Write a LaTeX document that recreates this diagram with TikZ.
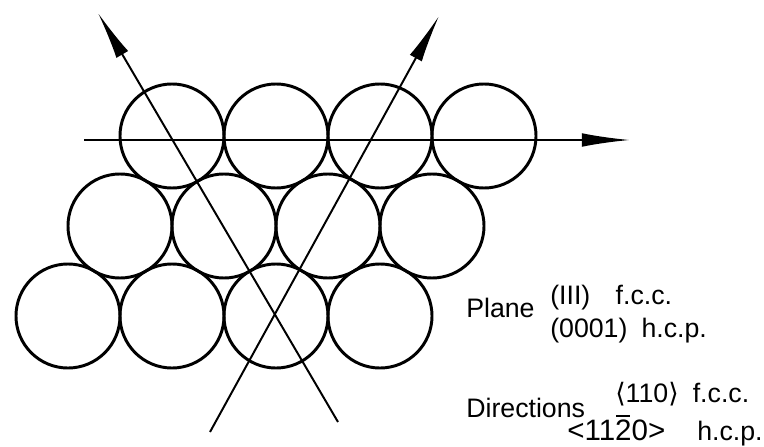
\documentclass[tikz,border=0pt]{standalone}
\usepackage{fontspec}
\setmainfont{Liberation Sans}
\newfontfamily\bracketfont{DejaVu Sans}
\usetikzlibrary{arrows.meta}
\newcommand{\barover}[1]{\ooalign{#1\cr\hidewidth\rule[0.78em]{0.48em}{0.07em}\hidewidth\cr}}

\begin{document}
\begin{tikzpicture}[x=0.025cm,y=-0.025cm,
  every node/.style={font=\fontsize{19}{22}\selectfont,inner sep=0pt},
  ball/.style={line width=2.1pt},
  axis/.style={line width=1.4pt,-{Latex[length=12mm,width=3.4mm]}}]
\useasboundingbox (0,0) rectangle (764,447);
% top layer of spheres
\draw[ball] (172,136) circle[radius=1.3cm];
\draw[ball] (276,136) circle[radius=1.3cm];
\draw[ball] (380,136) circle[radius=1.3cm];
\draw[ball] (484,136) circle[radius=1.3cm];
% middle layer
\draw[ball] (120,226) circle[radius=1.3cm];
\draw[ball] (224,226) circle[radius=1.3cm];
\draw[ball] (328,226) circle[radius=1.3cm];
\draw[ball] (432,226) circle[radius=1.3cm];
% bottom layer
\draw[ball] (68,316) circle[radius=1.3cm];
\draw[ball] (172,316) circle[radius=1.3cm];
\draw[ball] (276,316) circle[radius=1.3cm];
\draw[ball] (380,316) circle[radius=1.3cm];
% close-packed directions
\coordinate (hstart) at (84,140);
\coordinate (hend) at (630,140);
\coordinate (lstart) at (338,422);
\coordinate (lend) at (98,13);
\coordinate (rstart) at (210,432);
\coordinate (rend) at (439,16);
\draw[axis] (hstart) -- (hend);
\draw[axis] (lstart) -- (lend);
\draw[axis] (rstart) -- (rend);
% labels
\node[anchor=base west] (plane) at (466,317) {Plane};
\node[anchor=base west] (planefcc) at (550,304) {(III)\hspace{18pt}f.c.c.};
\node[anchor=base west] (planehcp) at (550,337) {(0001)\hspace{10pt}h.c.p.};
\node[anchor=base west] (dirs) at (466,417) {Directions};
\node[anchor=base west] (dirfcc) at (615,402) {{\bracketfont ⟨}110{\bracketfont ⟩}\hspace{10pt}f.c.c.};
\node[anchor=base west] (dirhcp) at (567,440) {{\fontsize{21}{24}\selectfont <11\barover{2}0>}};
\node[anchor=base west] (dirhcpb) at (697,440) {h.c.p.};
\end{tikzpicture}
\end{document}
